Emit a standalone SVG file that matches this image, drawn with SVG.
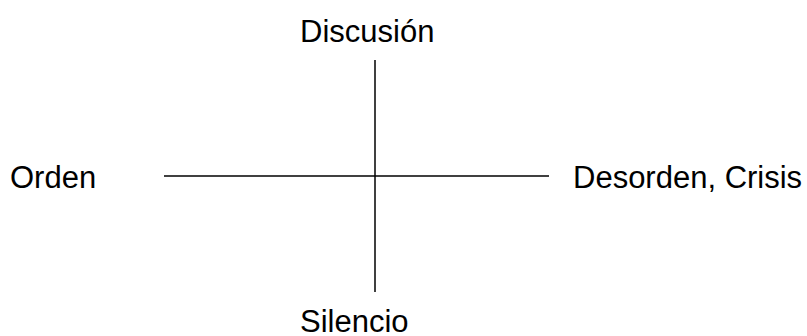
<svg xmlns="http://www.w3.org/2000/svg" width="807" height="336" viewBox="0 0 807 336">
<style>
.lbl{font-family:"Liberation Sans",Arial,sans-serif;font-size:31px;fill:#000}
.ax{stroke:#000;stroke-width:1.5;fill:none}
</style>
<rect width="807" height="336" fill="#fff"/>
<g id="connectors">
<line class="ax" x1="164" y1="176" x2="549" y2="176"/>
<line class="ax" x1="375" y1="60" x2="375" y2="292"/>
</g>
<g id="discusion"><text class="lbl" x="300" y="42">Discusión</text></g>
<g id="orden"><text class="lbl" x="10" y="188">Orden</text></g>
<g id="desorden"><text class="lbl" x="573" y="188">Desorden, Crisis</text></g>
<g id="silencio"><text class="lbl" x="300" y="332">Silencio</text></g>
</svg>
